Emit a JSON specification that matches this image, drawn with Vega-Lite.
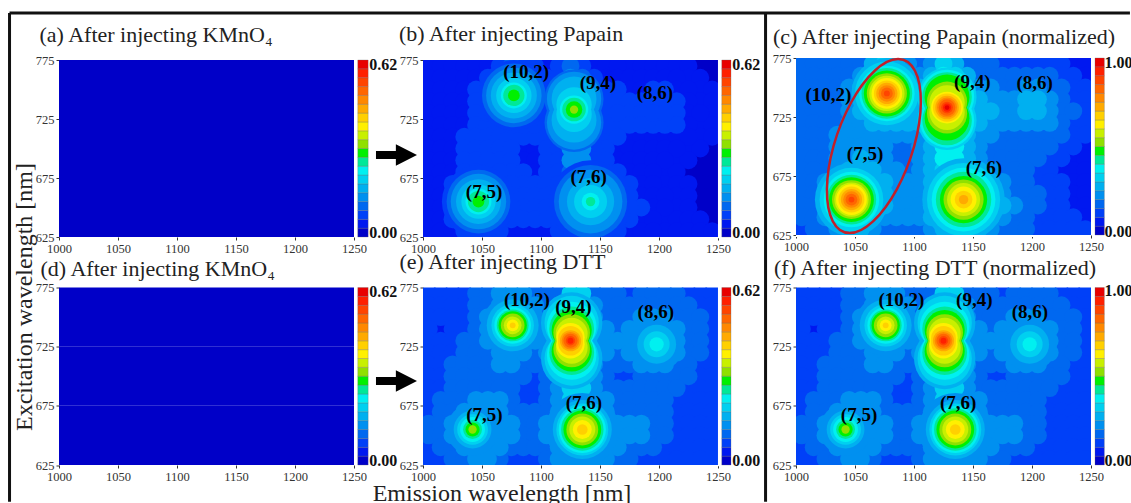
{"$schema":"https://vega.github.io/schema/vega-lite/v6.json","background":"white","padding":{"left":8,"top":11,"right":0,"bottom":0},"config":{"view":{"stroke":null},"axis":{"labelFont":"Liberation Serif","labelFontSize":12.5,"labelColor":"#333333","tickColor":"#333333","tickSize":3,"domain":false,"grid":false,"labelPadding":2,"labelOverlap":false,"labelBound":false,"labelFlush":false},"title":{"font":"Liberation Serif","fontSize":22,"fontWeight":"normal","color":"#222222","anchor":"start","frame":"group"},"text":{"font":"Liberation Serif"}},
"datasets":{
"bar":[{"level":0,"lo":625,"hi":632.5},{"level":1,"lo":632.5,"hi":640},{"level":2,"lo":640,"hi":647.5},{"level":3,"lo":647.5,"hi":655},{"level":4,"lo":655,"hi":662.5},{"level":5,"lo":662.5,"hi":670},{"level":6,"lo":670,"hi":677.5},{"level":7,"lo":677.5,"hi":685},{"level":8,"lo":685,"hi":692.5},{"level":9,"lo":692.5,"hi":700},{"level":10,"lo":700,"hi":707.5},{"level":11,"lo":707.5,"hi":715},{"level":12,"lo":715,"hi":722.5},{"level":13,"lo":722.5,"hi":730},{"level":14,"lo":730,"hi":737.5},{"level":15,"lo":737.5,"hi":745},{"level":16,"lo":745,"hi":752.5},{"level":17,"lo":752.5,"hi":760},{"level":18,"lo":760,"hi":767.5},{"level":19,"lo":767.5,"hi":775}],
"kmno4":[{"x":1000,"x2":1050,"y":625,"y2":675,"v":0.01},{"x":1050,"x2":1100,"y":625,"y2":675,"v":0.01},{"x":1100,"x2":1150,"y":625,"y2":675,"v":0.01},{"x":1150,"x2":1200,"y":625,"y2":675,"v":0.01},{"x":1200,"x2":1250,"y":625,"y2":675,"v":0.01},{"x":1000,"x2":1050,"y":675,"y2":725,"v":0.01},{"x":1050,"x2":1100,"y":675,"y2":725,"v":0.01},{"x":1100,"x2":1150,"y":675,"y2":725,"v":0.01},{"x":1150,"x2":1200,"y":675,"y2":725,"v":0.01},{"x":1200,"x2":1250,"y":675,"y2":725,"v":0.01},{"x":1000,"x2":1050,"y":725,"y2":775,"v":0.01},{"x":1050,"x2":1100,"y":725,"y2":775,"v":0.01},{"x":1100,"x2":1150,"y":725,"y2":775,"v":0.01},{"x":1150,"x2":1200,"y":725,"y2":775,"v":0.01},{"x":1200,"x2":1250,"y":725,"y2":775,"v":0.01}],
"papainRings":[
{"x":1077,"y":745,"v":0.09,"a":3600},{"x":1077,"y":745,"v":0.11,"a":2916},{"x":1077,"y":745,"v":0.13,"a":2209},{"x":1077,"y":745,"v":0.14,"a":1849},{"x":1077,"y":745,"v":0.16,"a":1521},{"x":1077,"y":745,"v":0.18,"a":1156},{"x":1077,"y":745,"v":0.2,"a":900},{"x":1077,"y":745,"v":0.21,"a":676},{"x":1077,"y":745,"v":0.23,"a":484},{"x":1077,"y":745,"v":0.25,"a":324},{"x":1077,"y":745,"v":0.26,"a":196},{"x":1077,"y":745,"v":0.28,"a":100},{"x":1077,"y":745,"v":0.3,"a":25},
{"x":1128,"y":742,"v":0.11,"a":2500},{"x":1128,"y":722,"v":0.11,"a":2500},{"x":1128,"y":742,"v":0.13,"a":2116},{"x":1128,"y":722,"v":0.13,"a":2116},{"x":1128,"y":742,"v":0.14,"a":1764},{"x":1128,"y":722,"v":0.14,"a":1764},{"x":1128,"y":742,"v":0.16,"a":1444},{"x":1128,"y":724,"v":0.16,"a":1444},{"x":1128,"y":738,"v":0.18,"a":1156},{"x":1128,"y":728,"v":0.18,"a":1156},{"x":1128,"y":737,"v":0.2,"a":900},{"x":1128,"y":729,"v":0.2,"a":900},{"x":1128,"y":733,"v":0.21,"a":729},{"x":1128,"y":733,"v":0.23,"a":576},{"x":1128,"y":733,"v":0.25,"a":400},{"x":1128,"y":733,"v":0.26,"a":289},{"x":1128,"y":733,"v":0.28,"a":196},{"x":1128,"y":733,"v":0.3,"a":100},{"x":1128,"y":733,"v":0.31,"a":49},{"x":1128,"y":733,"v":0.33,"a":16},
{"x":1047,"y":655,"v":0.09,"a":3844},{"x":1047,"y":655,"v":0.11,"a":2916},{"x":1047,"y":655,"v":0.13,"a":2209},{"x":1047,"y":655,"v":0.14,"a":1764},{"x":1047,"y":655,"v":0.16,"a":1444},{"x":1047,"y":655,"v":0.18,"a":1089},{"x":1047,"y":655,"v":0.2,"a":841},{"x":1047,"y":655,"v":0.21,"a":676},{"x":1047,"y":655,"v":0.23,"a":484},{"x":1047,"y":655,"v":0.25,"a":324},{"x":1047,"y":655,"v":0.26,"a":196},{"x":1047,"y":655,"v":0.28,"a":100},{"x":1047,"y":655,"v":0.3,"a":25},
{"x":1142,"y":655,"v":0.09,"a":4900},{"x":1142,"y":655,"v":0.11,"a":3844},{"x":1142,"y":655,"v":0.13,"a":2916},{"x":1142,"y":655,"v":0.14,"a":2209},{"x":1142,"y":655,"v":0.16,"a":1600},{"x":1142,"y":655,"v":0.18,"a":1156},{"x":1142,"y":655,"v":0.2,"a":784},{"x":1142,"y":655,"v":0.21,"a":484},{"x":1142,"y":655,"v":0.23,"a":225},{"x":1142,"y":655,"v":0.25,"a":64}],
"dttRings":[
{"x":1076,"y":743,"v":0.14,"a":2704},{"x":1076,"y":743,"v":0.17,"a":1936},{"x":1076,"y":743,"v":0.2,"a":1296},{"x":1076,"y":743,"v":0.23,"a":961},{"x":1076,"y":743,"v":0.26,"a":729},{"x":1076,"y":743,"v":0.29,"a":576},{"x":1076,"y":743,"v":0.33,"a":400},{"x":1076,"y":743,"v":0.36,"a":225},{"x":1076,"y":743,"v":0.39,"a":100},{"x":1076,"y":743,"v":0.42,"a":25},
{"x":1126,"y":745,"v":0.17,"a":2704},{"x":1126,"y":715,"v":0.17,"a":2704},{"x":1126,"y":745,"v":0.2,"a":2116},{"x":1126,"y":715,"v":0.2,"a":2116},{"x":1126,"y":742,"v":0.23,"a":1764},{"x":1126,"y":718,"v":0.23,"a":1764},{"x":1126,"y":740,"v":0.26,"a":1444},{"x":1126,"y":720,"v":0.26,"a":1444},{"x":1126,"y":739,"v":0.29,"a":1156},{"x":1126,"y":721,"v":0.29,"a":1156},{"x":1126,"y":737,"v":0.33,"a":961},{"x":1126,"y":723,"v":0.33,"a":961},{"x":1126,"y":736,"v":0.36,"a":729},{"x":1126,"y":724,"v":0.36,"a":729},{"x":1125,"y":733,"v":0.39,"a":576},{"x":1125,"y":727,"v":0.39,"a":576},{"x":1125,"y":732,"v":0.42,"a":441},{"x":1125,"y":728,"v":0.42,"a":441},{"x":1125,"y":730,"v":0.45,"a":324},{"x":1125,"y":730,"v":0.48,"a":225},{"x":1125,"y":730,"v":0.51,"a":144},{"x":1125,"y":730,"v":0.54,"a":64},{"x":1125,"y":730,"v":0.57,"a":25},
{"x":1042,"y":655,"v":0.14,"a":1936},{"x":1042,"y":655,"v":0.17,"a":1024},{"x":1042,"y":655,"v":0.2,"a":676},{"x":1042,"y":655,"v":0.23,"a":441},{"x":1042,"y":655,"v":0.26,"a":256},{"x":1042,"y":655,"v":0.29,"a":144},{"x":1042,"y":655,"v":0.33,"a":49},
{"x":1135,"y":655,"v":0.14,"a":3844},{"x":1135,"y":655,"v":0.17,"a":2500},{"x":1135,"y":655,"v":0.2,"a":1936},{"x":1135,"y":655,"v":0.23,"a":1600},{"x":1135,"y":655,"v":0.26,"a":1296},{"x":1135,"y":655,"v":0.29,"a":1024},{"x":1135,"y":655,"v":0.33,"a":729},{"x":1135,"y":655,"v":0.36,"a":484},{"x":1135,"y":655,"v":0.39,"a":256},{"x":1135,"y":655,"v":0.42,"a":81},
{"x":1198,"y":727,"v":0.14,"a":2116},{"x":1198,"y":727,"v":0.17,"a":1089},{"x":1198,"y":727,"v":0.2,"a":484},{"x":1198,"y":727,"v":0.23,"a":144}],
"papain":[
{"x":1005,"y":770,"v":0.06},{"x":1015,"y":770,"v":0.06},{"x":1025,"y":770,"v":0.06},{"x":1035,"y":770,"v":0.06},{"x":1045,"y":770,"v":0.06},{"x":1055,"y":770,"v":0.06},{"x":1065,"y":770,"v":0.09},{"x":1075,"y":770,"v":0.11},{"x":1085,"y":770,"v":0.09},{"x":1095,"y":770,"v":0.08},{"x":1105,"y":770,"v":0.06},{"x":1115,"y":770,"v":0.08},{"x":1125,"y":770,"v":0.11},{"x":1135,"y":770,"v":0.09},{"x":1145,"y":770,"v":0.06},{"x":1155,"y":770,"v":0.06},{"x":1165,"y":770,"v":0.06},{"x":1175,"y":770,"v":0.04},{"x":1185,"y":770,"v":0.04},{"x":1195,"y":770,"v":0.04},{"x":1205,"y":770,"v":0.04},{"x":1215,"y":770,"v":0.04},{"x":1225,"y":770,"v":0.04},{"x":1235,"y":770,"v":0.03},{"x":1245,"y":770,"v":0.03},
{"x":1005,"y":760,"v":0.06},{"x":1015,"y":760,"v":0.06},{"x":1025,"y":760,"v":0.06},{"x":1035,"y":760,"v":0.06},{"x":1045,"y":760,"v":0.06},{"x":1055,"y":760,"v":0.08},{"x":1065,"y":760,"v":0.09},{"x":1075,"y":760,"v":0.09},{"x":1085,"y":760,"v":0.09},{"x":1095,"y":760,"v":0.09},{"x":1105,"y":760,"v":0.08},{"x":1115,"y":760,"v":0.09},{"x":1125,"y":760,"v":0.13},{"x":1135,"y":760,"v":0.11},{"x":1145,"y":760,"v":0.09},{"x":1155,"y":760,"v":0.06},{"x":1165,"y":760,"v":0.06},{"x":1175,"y":760,"v":0.06},{"x":1185,"y":760,"v":0.06},{"x":1195,"y":760,"v":0.06},{"x":1205,"y":760,"v":0.06},{"x":1215,"y":760,"v":0.06},{"x":1225,"y":760,"v":0.04},{"x":1235,"y":760,"v":0.04},{"x":1245,"y":760,"v":0.03},
{"x":1005,"y":750,"v":0.06},{"x":1015,"y":750,"v":0.06},{"x":1025,"y":750,"v":0.06},{"x":1035,"y":750,"v":0.06},{"x":1045,"y":750,"v":0.08},{"x":1055,"y":750,"v":0.09},{"x":1065,"y":750,"v":0.09},{"x":1075,"y":750,"v":0.09},{"x":1085,"y":750,"v":0.09},{"x":1095,"y":750,"v":0.09},{"x":1105,"y":750,"v":0.09},{"x":1115,"y":750,"v":0.09},{"x":1125,"y":750,"v":0.09},{"x":1135,"y":750,"v":0.09},{"x":1145,"y":750,"v":0.09},{"x":1155,"y":750,"v":0.08},{"x":1165,"y":750,"v":0.08},{"x":1175,"y":750,"v":0.06},{"x":1185,"y":750,"v":0.06},{"x":1195,"y":750,"v":0.08},{"x":1205,"y":750,"v":0.08},{"x":1215,"y":750,"v":0.06},{"x":1225,"y":750,"v":0.06},{"x":1235,"y":750,"v":0.04},{"x":1245,"y":750,"v":0.04},
{"x":1005,"y":740,"v":0.06},{"x":1015,"y":740,"v":0.06},{"x":1025,"y":740,"v":0.06},{"x":1035,"y":740,"v":0.06},{"x":1045,"y":740,"v":0.08},{"x":1055,"y":740,"v":0.09},{"x":1065,"y":740,"v":0.09},{"x":1075,"y":740,"v":0.09},{"x":1085,"y":740,"v":0.09},{"x":1095,"y":740,"v":0.09},{"x":1105,"y":740,"v":0.09},{"x":1115,"y":740,"v":0.09},{"x":1125,"y":740,"v":0.09},{"x":1135,"y":740,"v":0.09},{"x":1145,"y":740,"v":0.09},{"x":1155,"y":740,"v":0.09},{"x":1165,"y":740,"v":0.08},{"x":1175,"y":740,"v":0.08},{"x":1185,"y":740,"v":0.08},{"x":1195,"y":740,"v":0.09},{"x":1205,"y":740,"v":0.09},{"x":1215,"y":740,"v":0.08},{"x":1225,"y":740,"v":0.06},{"x":1235,"y":740,"v":0.04},{"x":1245,"y":740,"v":0.04},
{"x":1005,"y":730,"v":0.06},{"x":1015,"y":730,"v":0.06},{"x":1025,"y":730,"v":0.06},{"x":1035,"y":730,"v":0.06},{"x":1045,"y":730,"v":0.08},{"x":1055,"y":730,"v":0.09},{"x":1065,"y":730,"v":0.09},{"x":1075,"y":730,"v":0.09},{"x":1085,"y":730,"v":0.09},{"x":1095,"y":730,"v":0.09},{"x":1105,"y":730,"v":0.09},{"x":1115,"y":730,"v":0.09},{"x":1125,"y":730,"v":0.09},{"x":1135,"y":730,"v":0.09},{"x":1145,"y":730,"v":0.09},{"x":1155,"y":730,"v":0.09},{"x":1165,"y":730,"v":0.09},{"x":1175,"y":730,"v":0.08},{"x":1185,"y":730,"v":0.08},{"x":1195,"y":730,"v":0.09},{"x":1205,"y":730,"v":0.09},{"x":1215,"y":730,"v":0.08},{"x":1225,"y":730,"v":0.06},{"x":1235,"y":730,"v":0.06},{"x":1245,"y":730,"v":0.04},
{"x":1005,"y":720,"v":0.06},{"x":1015,"y":720,"v":0.06},{"x":1025,"y":720,"v":0.06},{"x":1035,"y":720,"v":0.06},{"x":1045,"y":720,"v":0.08},{"x":1055,"y":720,"v":0.08},{"x":1065,"y":720,"v":0.09},{"x":1075,"y":720,"v":0.09},{"x":1085,"y":720,"v":0.09},{"x":1095,"y":720,"v":0.09},{"x":1105,"y":720,"v":0.09},{"x":1115,"y":720,"v":0.09},{"x":1125,"y":720,"v":0.09},{"x":1135,"y":720,"v":0.09},{"x":1145,"y":720,"v":0.09},{"x":1155,"y":720,"v":0.09},{"x":1165,"y":720,"v":0.08},{"x":1175,"y":720,"v":0.08},{"x":1185,"y":720,"v":0.08},{"x":1195,"y":720,"v":0.08},{"x":1205,"y":720,"v":0.08},{"x":1215,"y":720,"v":0.08},{"x":1225,"y":720,"v":0.06},{"x":1235,"y":720,"v":0.04},{"x":1245,"y":720,"v":0.04},
{"x":1005,"y":710,"v":0.06},{"x":1015,"y":710,"v":0.06},{"x":1025,"y":710,"v":0.06},{"x":1035,"y":710,"v":0.08},{"x":1045,"y":710,"v":0.08},{"x":1055,"y":710,"v":0.08},{"x":1065,"y":710,"v":0.08},{"x":1075,"y":710,"v":0.08},{"x":1085,"y":710,"v":0.08},{"x":1095,"y":710,"v":0.08},{"x":1105,"y":710,"v":0.08},{"x":1115,"y":710,"v":0.09},{"x":1125,"y":710,"v":0.13},{"x":1135,"y":710,"v":0.13},{"x":1145,"y":710,"v":0.09},{"x":1155,"y":710,"v":0.08},{"x":1165,"y":710,"v":0.08},{"x":1175,"y":710,"v":0.06},{"x":1185,"y":710,"v":0.06},{"x":1195,"y":710,"v":0.06},{"x":1205,"y":710,"v":0.06},{"x":1215,"y":710,"v":0.06},{"x":1225,"y":710,"v":0.06},{"x":1235,"y":710,"v":0.04},{"x":1245,"y":710,"v":0.04},
{"x":1005,"y":700,"v":0.06},{"x":1015,"y":700,"v":0.06},{"x":1025,"y":700,"v":0.06},{"x":1035,"y":700,"v":0.08},{"x":1045,"y":700,"v":0.08},{"x":1055,"y":700,"v":0.08},{"x":1065,"y":700,"v":0.08},{"x":1075,"y":700,"v":0.08},{"x":1085,"y":700,"v":0.06},{"x":1095,"y":700,"v":0.06},{"x":1105,"y":700,"v":0.08},{"x":1115,"y":700,"v":0.09},{"x":1125,"y":700,"v":0.13},{"x":1135,"y":700,"v":0.13},{"x":1145,"y":700,"v":0.09},{"x":1155,"y":700,"v":0.08},{"x":1165,"y":700,"v":0.06},{"x":1175,"y":700,"v":0.06},{"x":1185,"y":700,"v":0.06},{"x":1195,"y":700,"v":0.06},{"x":1205,"y":700,"v":0.06},{"x":1215,"y":700,"v":0.06},{"x":1225,"y":700,"v":0.04},{"x":1235,"y":700,"v":0.04},{"x":1245,"y":700,"v":0.03},
{"x":1005,"y":690,"v":0.06},{"x":1015,"y":690,"v":0.06},{"x":1025,"y":690,"v":0.06},{"x":1035,"y":690,"v":0.08},{"x":1045,"y":690,"v":0.08},{"x":1055,"y":690,"v":0.09},{"x":1065,"y":690,"v":0.08},{"x":1075,"y":690,"v":0.08},{"x":1085,"y":690,"v":0.06},{"x":1095,"y":690,"v":0.06},{"x":1105,"y":690,"v":0.08},{"x":1115,"y":690,"v":0.09},{"x":1125,"y":690,"v":0.13},{"x":1135,"y":690,"v":0.13},{"x":1145,"y":690,"v":0.09},{"x":1155,"y":690,"v":0.08},{"x":1165,"y":690,"v":0.06},{"x":1175,"y":690,"v":0.06},{"x":1185,"y":690,"v":0.06},{"x":1195,"y":690,"v":0.06},{"x":1205,"y":690,"v":0.06},{"x":1215,"y":690,"v":0.04},{"x":1225,"y":690,"v":0.04},{"x":1235,"y":690,"v":0.03},{"x":1245,"y":690,"v":0.03},
{"x":1005,"y":680,"v":0.06},{"x":1015,"y":680,"v":0.06},{"x":1025,"y":680,"v":0.06},{"x":1035,"y":680,"v":0.08},{"x":1045,"y":680,"v":0.09},{"x":1055,"y":680,"v":0.09},{"x":1065,"y":680,"v":0.09},{"x":1075,"y":680,"v":0.08},{"x":1085,"y":680,"v":0.08},{"x":1095,"y":680,"v":0.06},{"x":1105,"y":680,"v":0.08},{"x":1115,"y":680,"v":0.09},{"x":1125,"y":680,"v":0.11},{"x":1135,"y":680,"v":0.11},{"x":1145,"y":680,"v":0.09},{"x":1155,"y":680,"v":0.09},{"x":1165,"y":680,"v":0.08},{"x":1175,"y":680,"v":0.06},{"x":1185,"y":680,"v":0.06},{"x":1195,"y":680,"v":0.06},{"x":1205,"y":680,"v":0.04},{"x":1215,"y":680,"v":0.04},{"x":1225,"y":680,"v":0.03},{"x":1235,"y":680,"v":0.03},{"x":1245,"y":680,"v":0.03},
{"x":1005,"y":670,"v":0.06},{"x":1015,"y":670,"v":0.06},{"x":1025,"y":670,"v":0.08},{"x":1035,"y":670,"v":0.09},{"x":1045,"y":670,"v":0.09},{"x":1055,"y":670,"v":0.09},{"x":1065,"y":670,"v":0.09},{"x":1075,"y":670,"v":0.09},{"x":1085,"y":670,"v":0.08},{"x":1095,"y":670,"v":0.08},{"x":1105,"y":670,"v":0.08},{"x":1115,"y":670,"v":0.09},{"x":1125,"y":670,"v":0.09},{"x":1135,"y":670,"v":0.09},{"x":1145,"y":670,"v":0.09},{"x":1155,"y":670,"v":0.09},{"x":1165,"y":670,"v":0.09},{"x":1175,"y":670,"v":0.08},{"x":1185,"y":670,"v":0.06},{"x":1195,"y":670,"v":0.06},{"x":1205,"y":670,"v":0.04},{"x":1215,"y":670,"v":0.04},{"x":1225,"y":670,"v":0.04},{"x":1235,"y":670,"v":0.03},{"x":1245,"y":670,"v":0.03},
{"x":1005,"y":660,"v":0.06},{"x":1015,"y":660,"v":0.06},{"x":1025,"y":660,"v":0.09},{"x":1035,"y":660,"v":0.09},{"x":1045,"y":660,"v":0.09},{"x":1055,"y":660,"v":0.09},{"x":1065,"y":660,"v":0.09},{"x":1075,"y":660,"v":0.09},{"x":1085,"y":660,"v":0.08},{"x":1095,"y":660,"v":0.08},{"x":1105,"y":660,"v":0.08},{"x":1115,"y":660,"v":0.09},{"x":1125,"y":660,"v":0.09},{"x":1135,"y":660,"v":0.09},{"x":1145,"y":660,"v":0.09},{"x":1155,"y":660,"v":0.09},{"x":1165,"y":660,"v":0.09},{"x":1175,"y":660,"v":0.08},{"x":1185,"y":660,"v":0.06},{"x":1195,"y":660,"v":0.06},{"x":1205,"y":660,"v":0.06},{"x":1215,"y":660,"v":0.04},{"x":1225,"y":660,"v":0.04},{"x":1235,"y":660,"v":0.03},{"x":1245,"y":660,"v":0.03},
{"x":1005,"y":650,"v":0.06},{"x":1015,"y":650,"v":0.06},{"x":1025,"y":650,"v":0.09},{"x":1035,"y":650,"v":0.09},{"x":1045,"y":650,"v":0.09},{"x":1055,"y":650,"v":0.09},{"x":1065,"y":650,"v":0.09},{"x":1075,"y":650,"v":0.09},{"x":1085,"y":650,"v":0.08},{"x":1095,"y":650,"v":0.08},{"x":1105,"y":650,"v":0.08},{"x":1115,"y":650,"v":0.09},{"x":1125,"y":650,"v":0.09},{"x":1135,"y":650,"v":0.09},{"x":1145,"y":650,"v":0.09},{"x":1155,"y":650,"v":0.09},{"x":1165,"y":650,"v":0.09},{"x":1175,"y":650,"v":0.09},{"x":1185,"y":650,"v":0.08},{"x":1195,"y":650,"v":0.06},{"x":1205,"y":650,"v":0.06},{"x":1215,"y":650,"v":0.04},{"x":1225,"y":650,"v":0.04},{"x":1235,"y":650,"v":0.03},{"x":1245,"y":650,"v":0.03},
{"x":1005,"y":640,"v":0.06},{"x":1015,"y":640,"v":0.06},{"x":1025,"y":640,"v":0.08},{"x":1035,"y":640,"v":0.09},{"x":1045,"y":640,"v":0.09},{"x":1055,"y":640,"v":0.09},{"x":1065,"y":640,"v":0.09},{"x":1075,"y":640,"v":0.08},{"x":1085,"y":640,"v":0.08},{"x":1095,"y":640,"v":0.08},{"x":1105,"y":640,"v":0.08},{"x":1115,"y":640,"v":0.09},{"x":1125,"y":640,"v":0.09},{"x":1135,"y":640,"v":0.09},{"x":1145,"y":640,"v":0.09},{"x":1155,"y":640,"v":0.09},{"x":1165,"y":640,"v":0.09},{"x":1175,"y":640,"v":0.08},{"x":1185,"y":640,"v":0.06},{"x":1195,"y":640,"v":0.06},{"x":1205,"y":640,"v":0.04},{"x":1215,"y":640,"v":0.04},{"x":1225,"y":640,"v":0.04},{"x":1235,"y":640,"v":0.04},{"x":1245,"y":640,"v":0.03},
{"x":1005,"y":630,"v":0.04},{"x":1015,"y":630,"v":0.06},{"x":1025,"y":630,"v":0.06},{"x":1035,"y":630,"v":0.08},{"x":1045,"y":630,"v":0.09},{"x":1055,"y":630,"v":0.09},{"x":1065,"y":630,"v":0.08},{"x":1075,"y":630,"v":0.06},{"x":1085,"y":630,"v":0.06},{"x":1095,"y":630,"v":0.06},{"x":1105,"y":630,"v":0.06},{"x":1115,"y":630,"v":0.08},{"x":1125,"y":630,"v":0.09},{"x":1135,"y":630,"v":0.09},{"x":1145,"y":630,"v":0.09},{"x":1155,"y":630,"v":0.09},{"x":1165,"y":630,"v":0.08},{"x":1175,"y":630,"v":0.06},{"x":1185,"y":630,"v":0.06},{"x":1195,"y":630,"v":0.06},{"x":1205,"y":630,"v":0.04},{"x":1215,"y":630,"v":0.04},{"x":1225,"y":630,"v":0.04},{"x":1235,"y":630,"v":0.04},{"x":1245,"y":630,"v":0.04}],
"dtt":[
{"x":1005,"y":770,"v":0.08},{"x":1015,"y":770,"v":0.08},{"x":1025,"y":770,"v":0.08},{"x":1035,"y":770,"v":0.08},{"x":1045,"y":770,"v":0.11},{"x":1055,"y":770,"v":0.11},{"x":1065,"y":770,"v":0.14},{"x":1075,"y":770,"v":0.14},{"x":1085,"y":770,"v":0.14},{"x":1095,"y":770,"v":0.11},{"x":1105,"y":770,"v":0.11},{"x":1115,"y":770,"v":0.11},{"x":1125,"y":770,"v":0.2},{"x":1135,"y":770,"v":0.2},{"x":1145,"y":770,"v":0.11},{"x":1155,"y":770,"v":0.11},{"x":1165,"y":770,"v":0.11},{"x":1175,"y":770,"v":0.08},{"x":1185,"y":770,"v":0.11},{"x":1195,"y":770,"v":0.11},{"x":1205,"y":770,"v":0.11},{"x":1215,"y":770,"v":0.11},{"x":1225,"y":770,"v":0.08},{"x":1235,"y":770,"v":0.08},{"x":1245,"y":770,"v":0.08},
{"x":1005,"y":760,"v":0.08},{"x":1015,"y":760,"v":0.08},{"x":1025,"y":760,"v":0.08},{"x":1035,"y":760,"v":0.08},{"x":1045,"y":760,"v":0.11},{"x":1055,"y":760,"v":0.11},{"x":1065,"y":760,"v":0.14},{"x":1075,"y":760,"v":0.14},{"x":1085,"y":760,"v":0.14},{"x":1095,"y":760,"v":0.14},{"x":1105,"y":760,"v":0.11},{"x":1115,"y":760,"v":0.14},{"x":1125,"y":760,"v":0.2},{"x":1135,"y":760,"v":0.2},{"x":1145,"y":760,"v":0.14},{"x":1155,"y":760,"v":0.11},{"x":1165,"y":760,"v":0.11},{"x":1175,"y":760,"v":0.11},{"x":1185,"y":760,"v":0.11},{"x":1195,"y":760,"v":0.11},{"x":1205,"y":760,"v":0.11},{"x":1215,"y":760,"v":0.11},{"x":1225,"y":760,"v":0.11},{"x":1235,"y":760,"v":0.08},{"x":1245,"y":760,"v":0.08},
{"x":1005,"y":750,"v":0.08},{"x":1015,"y":750,"v":0.08},{"x":1025,"y":750,"v":0.08},{"x":1035,"y":750,"v":0.08},{"x":1045,"y":750,"v":0.11},{"x":1055,"y":750,"v":0.14},{"x":1065,"y":750,"v":0.14},{"x":1075,"y":750,"v":0.14},{"x":1085,"y":750,"v":0.14},{"x":1095,"y":750,"v":0.14},{"x":1105,"y":750,"v":0.11},{"x":1115,"y":750,"v":0.14},{"x":1125,"y":750,"v":0.14},{"x":1135,"y":750,"v":0.14},{"x":1145,"y":750,"v":0.14},{"x":1155,"y":750,"v":0.11},{"x":1165,"y":750,"v":0.11},{"x":1175,"y":750,"v":0.11},{"x":1185,"y":750,"v":0.14},{"x":1195,"y":750,"v":0.14},{"x":1205,"y":750,"v":0.14},{"x":1215,"y":750,"v":0.11},{"x":1225,"y":750,"v":0.11},{"x":1235,"y":750,"v":0.11},{"x":1245,"y":750,"v":0.08},
{"x":1005,"y":740,"v":0.08},{"x":1015,"y":740,"v":0.05},{"x":1025,"y":740,"v":0.08},{"x":1035,"y":740,"v":0.08},{"x":1045,"y":740,"v":0.11},{"x":1055,"y":740,"v":0.14},{"x":1065,"y":740,"v":0.14},{"x":1075,"y":740,"v":0.14},{"x":1085,"y":740,"v":0.14},{"x":1095,"y":740,"v":0.14},{"x":1105,"y":740,"v":0.14},{"x":1115,"y":740,"v":0.14},{"x":1125,"y":740,"v":0.14},{"x":1135,"y":740,"v":0.14},{"x":1145,"y":740,"v":0.14},{"x":1155,"y":740,"v":0.14},{"x":1165,"y":740,"v":0.11},{"x":1175,"y":740,"v":0.14},{"x":1185,"y":740,"v":0.14},{"x":1195,"y":740,"v":0.14},{"x":1205,"y":740,"v":0.14},{"x":1215,"y":740,"v":0.14},{"x":1225,"y":740,"v":0.11},{"x":1235,"y":740,"v":0.11},{"x":1245,"y":740,"v":0.08},
{"x":1005,"y":730,"v":0.08},{"x":1015,"y":730,"v":0.08},{"x":1025,"y":730,"v":0.08},{"x":1035,"y":730,"v":0.11},{"x":1045,"y":730,"v":0.11},{"x":1055,"y":730,"v":0.14},{"x":1065,"y":730,"v":0.14},{"x":1075,"y":730,"v":0.14},{"x":1085,"y":730,"v":0.14},{"x":1095,"y":730,"v":0.14},{"x":1105,"y":730,"v":0.14},{"x":1115,"y":730,"v":0.14},{"x":1125,"y":730,"v":0.14},{"x":1135,"y":730,"v":0.14},{"x":1145,"y":730,"v":0.14},{"x":1155,"y":730,"v":0.14},{"x":1165,"y":730,"v":0.14},{"x":1175,"y":730,"v":0.14},{"x":1185,"y":730,"v":0.14},{"x":1195,"y":730,"v":0.14},{"x":1205,"y":730,"v":0.14},{"x":1215,"y":730,"v":0.14},{"x":1225,"y":730,"v":0.11},{"x":1235,"y":730,"v":0.11},{"x":1245,"y":730,"v":0.08},
{"x":1005,"y":720,"v":0.08},{"x":1015,"y":720,"v":0.08},{"x":1025,"y":720,"v":0.08},{"x":1035,"y":720,"v":0.11},{"x":1045,"y":720,"v":0.11},{"x":1055,"y":720,"v":0.11},{"x":1065,"y":720,"v":0.14},{"x":1075,"y":720,"v":0.14},{"x":1085,"y":720,"v":0.14},{"x":1095,"y":720,"v":0.11},{"x":1105,"y":720,"v":0.14},{"x":1115,"y":720,"v":0.14},{"x":1125,"y":720,"v":0.14},{"x":1135,"y":720,"v":0.14},{"x":1145,"y":720,"v":0.14},{"x":1155,"y":720,"v":0.14},{"x":1165,"y":720,"v":0.11},{"x":1175,"y":720,"v":0.14},{"x":1185,"y":720,"v":0.14},{"x":1195,"y":720,"v":0.14},{"x":1205,"y":720,"v":0.14},{"x":1215,"y":720,"v":0.14},{"x":1225,"y":720,"v":0.11},{"x":1235,"y":720,"v":0.11},{"x":1245,"y":720,"v":0.08},
{"x":1005,"y":710,"v":0.08},{"x":1015,"y":710,"v":0.08},{"x":1025,"y":710,"v":0.11},{"x":1035,"y":710,"v":0.11},{"x":1045,"y":710,"v":0.11},{"x":1055,"y":710,"v":0.11},{"x":1065,"y":710,"v":0.14},{"x":1075,"y":710,"v":0.14},{"x":1085,"y":710,"v":0.11},{"x":1095,"y":710,"v":0.11},{"x":1105,"y":710,"v":0.11},{"x":1115,"y":710,"v":0.14},{"x":1125,"y":710,"v":0.2},{"x":1135,"y":710,"v":0.2},{"x":1145,"y":710,"v":0.14},{"x":1155,"y":710,"v":0.11},{"x":1165,"y":710,"v":0.11},{"x":1175,"y":710,"v":0.11},{"x":1185,"y":710,"v":0.14},{"x":1195,"y":710,"v":0.14},{"x":1205,"y":710,"v":0.14},{"x":1215,"y":710,"v":0.11},{"x":1225,"y":710,"v":0.11},{"x":1235,"y":710,"v":0.08},{"x":1245,"y":710,"v":0.08},
{"x":1005,"y":700,"v":0.08},{"x":1015,"y":700,"v":0.08},{"x":1025,"y":700,"v":0.11},{"x":1035,"y":700,"v":0.11},{"x":1045,"y":700,"v":0.11},{"x":1055,"y":700,"v":0.11},{"x":1065,"y":700,"v":0.11},{"x":1075,"y":700,"v":0.11},{"x":1085,"y":700,"v":0.11},{"x":1095,"y":700,"v":0.08},{"x":1105,"y":700,"v":0.11},{"x":1115,"y":700,"v":0.14},{"x":1125,"y":700,"v":0.2},{"x":1135,"y":700,"v":0.2},{"x":1145,"y":700,"v":0.14},{"x":1155,"y":700,"v":0.11},{"x":1165,"y":700,"v":0.08},{"x":1175,"y":700,"v":0.08},{"x":1185,"y":700,"v":0.11},{"x":1195,"y":700,"v":0.11},{"x":1205,"y":700,"v":0.11},{"x":1215,"y":700,"v":0.11},{"x":1225,"y":700,"v":0.11},{"x":1235,"y":700,"v":0.08},{"x":1245,"y":700,"v":0.08},
{"x":1005,"y":690,"v":0.08},{"x":1015,"y":690,"v":0.08},{"x":1025,"y":690,"v":0.11},{"x":1035,"y":690,"v":0.11},{"x":1045,"y":690,"v":0.11},{"x":1055,"y":690,"v":0.11},{"x":1065,"y":690,"v":0.11},{"x":1075,"y":690,"v":0.11},{"x":1085,"y":690,"v":0.08},{"x":1095,"y":690,"v":0.08},{"x":1105,"y":690,"v":0.11},{"x":1115,"y":690,"v":0.14},{"x":1125,"y":690,"v":0.2},{"x":1135,"y":690,"v":0.2},{"x":1145,"y":690,"v":0.14},{"x":1155,"y":690,"v":0.11},{"x":1165,"y":690,"v":0.11},{"x":1175,"y":690,"v":0.11},{"x":1185,"y":690,"v":0.11},{"x":1195,"y":690,"v":0.11},{"x":1205,"y":690,"v":0.11},{"x":1215,"y":690,"v":0.11},{"x":1225,"y":690,"v":0.08},{"x":1235,"y":690,"v":0.08},{"x":1245,"y":690,"v":0.08},
{"x":1005,"y":680,"v":0.08},{"x":1015,"y":680,"v":0.11},{"x":1025,"y":680,"v":0.11},{"x":1035,"y":680,"v":0.11},{"x":1045,"y":680,"v":0.14},{"x":1055,"y":680,"v":0.14},{"x":1065,"y":680,"v":0.14},{"x":1075,"y":680,"v":0.11},{"x":1085,"y":680,"v":0.08},{"x":1095,"y":680,"v":0.08},{"x":1105,"y":680,"v":0.11},{"x":1115,"y":680,"v":0.14},{"x":1125,"y":680,"v":0.2},{"x":1135,"y":680,"v":0.2},{"x":1145,"y":680,"v":0.14},{"x":1155,"y":680,"v":0.14},{"x":1165,"y":680,"v":0.11},{"x":1175,"y":680,"v":0.11},{"x":1185,"y":680,"v":0.11},{"x":1195,"y":680,"v":0.11},{"x":1205,"y":680,"v":0.11},{"x":1215,"y":680,"v":0.08},{"x":1225,"y":680,"v":0.08},{"x":1235,"y":680,"v":0.08},{"x":1245,"y":680,"v":0.08},
{"x":1005,"y":670,"v":0.08},{"x":1015,"y":670,"v":0.11},{"x":1025,"y":670,"v":0.11},{"x":1035,"y":670,"v":0.14},{"x":1045,"y":670,"v":0.14},{"x":1055,"y":670,"v":0.14},{"x":1065,"y":670,"v":0.14},{"x":1075,"y":670,"v":0.11},{"x":1085,"y":670,"v":0.11},{"x":1095,"y":670,"v":0.11},{"x":1105,"y":670,"v":0.11},{"x":1115,"y":670,"v":0.14},{"x":1125,"y":670,"v":0.14},{"x":1135,"y":670,"v":0.14},{"x":1145,"y":670,"v":0.14},{"x":1155,"y":670,"v":0.14},{"x":1165,"y":670,"v":0.11},{"x":1175,"y":670,"v":0.11},{"x":1185,"y":670,"v":0.11},{"x":1195,"y":670,"v":0.11},{"x":1205,"y":670,"v":0.11},{"x":1215,"y":670,"v":0.08},{"x":1225,"y":670,"v":0.08},{"x":1235,"y":670,"v":0.08},{"x":1245,"y":670,"v":0.08},
{"x":1005,"y":660,"v":0.11},{"x":1015,"y":660,"v":0.11},{"x":1025,"y":660,"v":0.14},{"x":1035,"y":660,"v":0.14},{"x":1045,"y":660,"v":0.14},{"x":1055,"y":660,"v":0.14},{"x":1065,"y":660,"v":0.14},{"x":1075,"y":660,"v":0.14},{"x":1085,"y":660,"v":0.11},{"x":1095,"y":660,"v":0.11},{"x":1105,"y":660,"v":0.14},{"x":1115,"y":660,"v":0.14},{"x":1125,"y":660,"v":0.14},{"x":1135,"y":660,"v":0.14},{"x":1145,"y":660,"v":0.14},{"x":1155,"y":660,"v":0.14},{"x":1165,"y":660,"v":0.14},{"x":1175,"y":660,"v":0.14},{"x":1185,"y":660,"v":0.14},{"x":1195,"y":660,"v":0.11},{"x":1205,"y":660,"v":0.11},{"x":1215,"y":660,"v":0.08},{"x":1225,"y":660,"v":0.08},{"x":1235,"y":660,"v":0.08},{"x":1245,"y":660,"v":0.08},
{"x":1005,"y":650,"v":0.11},{"x":1015,"y":650,"v":0.11},{"x":1025,"y":650,"v":0.14},{"x":1035,"y":650,"v":0.14},{"x":1045,"y":650,"v":0.14},{"x":1055,"y":650,"v":0.14},{"x":1065,"y":650,"v":0.14},{"x":1075,"y":650,"v":0.14},{"x":1085,"y":650,"v":0.11},{"x":1095,"y":650,"v":0.11},{"x":1105,"y":650,"v":0.14},{"x":1115,"y":650,"v":0.14},{"x":1125,"y":650,"v":0.14},{"x":1135,"y":650,"v":0.14},{"x":1145,"y":650,"v":0.14},{"x":1155,"y":650,"v":0.14},{"x":1165,"y":650,"v":0.14},{"x":1175,"y":650,"v":0.14},{"x":1185,"y":650,"v":0.14},{"x":1195,"y":650,"v":0.11},{"x":1205,"y":650,"v":0.11},{"x":1215,"y":650,"v":0.08},{"x":1225,"y":650,"v":0.08},{"x":1235,"y":650,"v":0.08},{"x":1245,"y":650,"v":0.08},
{"x":1005,"y":640,"v":0.08},{"x":1015,"y":640,"v":0.11},{"x":1025,"y":640,"v":0.11},{"x":1035,"y":640,"v":0.14},{"x":1045,"y":640,"v":0.14},{"x":1055,"y":640,"v":0.14},{"x":1065,"y":640,"v":0.14},{"x":1075,"y":640,"v":0.11},{"x":1085,"y":640,"v":0.11},{"x":1095,"y":640,"v":0.11},{"x":1105,"y":640,"v":0.11},{"x":1115,"y":640,"v":0.14},{"x":1125,"y":640,"v":0.14},{"x":1135,"y":640,"v":0.14},{"x":1145,"y":640,"v":0.14},{"x":1155,"y":640,"v":0.14},{"x":1165,"y":640,"v":0.14},{"x":1175,"y":640,"v":0.11},{"x":1185,"y":640,"v":0.11},{"x":1195,"y":640,"v":0.11},{"x":1205,"y":640,"v":0.08},{"x":1215,"y":640,"v":0.08},{"x":1225,"y":640,"v":0.08},{"x":1235,"y":640,"v":0.08},{"x":1245,"y":640,"v":0.08},
{"x":1005,"y":630,"v":0.08},{"x":1015,"y":630,"v":0.08},{"x":1025,"y":630,"v":0.11},{"x":1035,"y":630,"v":0.11},{"x":1045,"y":630,"v":0.14},{"x":1055,"y":630,"v":0.14},{"x":1065,"y":630,"v":0.11},{"x":1075,"y":630,"v":0.08},{"x":1085,"y":630,"v":0.08},{"x":1095,"y":630,"v":0.08},{"x":1105,"y":630,"v":0.11},{"x":1115,"y":630,"v":0.14},{"x":1125,"y":630,"v":0.14},{"x":1135,"y":630,"v":0.14},{"x":1145,"y":630,"v":0.14},{"x":1155,"y":630,"v":0.14},{"x":1165,"y":630,"v":0.11},{"x":1175,"y":630,"v":0.11},{"x":1185,"y":630,"v":0.08},{"x":1195,"y":630,"v":0.08},{"x":1205,"y":630,"v":0.08},{"x":1215,"y":630,"v":0.08},{"x":1225,"y":630,"v":0.08},{"x":1235,"y":630,"v":0.08},{"x":1245,"y":630,"v":0.08}]
},
"columns":3,"spacing":{"row":50.5,"column":69},"bounds":"flush","align":"each",
"concat":[
{"width":295,"height":179,"title":{"text":"(a) After injecting KMnO₄","dx":-19.5,"offset":7},"resolve":{"scale":{"color":"independent"}},"layer":[
{"data":{"name":"kmno4"},"mark":{"type":"rect"},"encoding":{"x":{"field":"x","type":"quantitative","scale":{"domain":[1000,1250],"nice":false,"zero":false},"axis":{"title":null,"format":"d","values":[1000,1050,1100,1150,1200,1250]}},"x2":{"field":"x2"},"y":{"field":"y","type":"quantitative","scale":{"domain":[625,775],"nice":false,"zero":false,"range":[179,2]},"axis":{"title":"Excitation wavelength [nm]","values":[625,675,725,775],"titleFont":"Liberation Serif","titleFontSize":24,"titleFontWeight":"normal","titleColor":"#222222","titleX":-35,"titleY":238.5,"titleAngle":270,"titleAlign":"center","titleBaseline":"middle"}},"y2":{"field":"y2"},"color":{"field":"v","type":"quantitative","legend":null,"scale":{"type":"quantize","domain":[0,0.62],"range":["#0000C8","#0018F0","#0040F8","#0068F0","#0090F0","#00B0F0","#00D0F0","#00F0F0","#00E898","#00F000","#90E000","#C8F000","#FFF000","#FFD000","#FFAA00","#FF8800","#FF6600","#FF4400","#FF2000","#E80000"]}}}},
{"data":{"name":"bar"},"mark":{"type":"rect","stroke":"#666666","strokeWidth":0.3},"encoding":{"x":{"datum":1253.2,"type":"quantitative"},"x2":{"datum":1262},"y":{"field":"lo","type":"quantitative"},"y2":{"field":"hi"},"color":{"field":"level","type":"ordinal","legend":null,"scale":{"domain":[0,1,2,3,4,5,6,7,8,9,10,11,12,13,14,15,16,17,18,19],"range":["#0000C8","#0018F0","#0040F8","#0068F0","#0090F0","#00B0F0","#00D0F0","#00F0F0","#00E898","#00F000","#90E000","#C8F000","#FFF000","#FFD000","#FFAA00","#FF8800","#FF6600","#FF4400","#FF2000","#E80000"]}}}},
{"data":{"values":[{"x":1263,"y":770.5,"t":"0.62"},{"x":1263,"y":628,"t":"0.00"}]},"mark":{"type":"text","align":"left","baseline":"middle","font":"Liberation Serif","fontWeight":"bold","fontSize":16,"color":"#111111"},"encoding":{"x":{"field":"x","type":"quantitative"},"y":{"field":"y","type":"quantitative"},"text":{"field":"t"}}},
{"data":{"values":[{"x":1286,"y":694.5}]},"mark":{"type":"point","filled":true,"opacity":1,"color":"black","size":1681,"shape":"M-1,-0.2 L-0.03,-0.2 L-0.03,-0.52 L1,0 L-0.03,0.52 L-0.03,0.2 L-1,0.2 Z"},"encoding":{"x":{"field":"x","type":"quantitative"},"y":{"field":"y","type":"quantitative"}}}
]},
{"width":303.5,"height":179,"title":{"text":"(b) After injecting Papain","dx":-24,"offset":7},"resolve":{"scale":{"color":"independent"}},"layer":[
{"data":{"name":"papain"},"mark":{"type":"circle","size":320,"opacity":1,"clip":true},"encoding":{"x":{"field":"x","type":"quantitative","scale":{"domain":[1000,1250],"nice":false,"zero":false,"range":[0,295]},"axis":{"title":null,"format":"d","values":[1000,1050,1100,1150,1200,1250]}},"y":{"field":"y","type":"quantitative","scale":{"domain":[625,775],"nice":false,"zero":false,"range":[179,2]},"axis":{"title":null,"values":[625,675,725,775]}},"order":{"field":"v","type":"quantitative"},"color":{"field":"v","type":"quantitative","legend":null,"scale":{"type":"quantize","domain":[0,0.62],"range":["#0000C8","#0018F0","#0040F8","#0068F0","#0090F0","#00B0F0","#00D0F0","#00F0F0","#00E898","#00F000","#90E000","#C8F000","#FFF000","#FFD000","#FFAA00","#FF8800","#FF6600","#FF4400","#FF2000","#E80000"]}}}},
{"data":{"name":"papainRings"},"mark":{"type":"circle","opacity":1,"clip":true},"encoding":{"x":{"field":"x","type":"quantitative"},"y":{"field":"y","type":"quantitative"},"order":{"field":"v","type":"quantitative"},"size":{"field":"a","type":"quantitative","legend":null,"scale":{"domain":[0,1000],"range":[0,1392]}},"color":{"field":"v","type":"quantitative","legend":null,"scale":{"type":"quantize","domain":[0,0.62],"range":["#0000C8","#0018F0","#0040F8","#0068F0","#0090F0","#00B0F0","#00D0F0","#00F0F0","#00E898","#00F000","#90E000","#C8F000","#FFF000","#FFD000","#FFAA00","#FF8800","#FF6600","#FF4400","#FF2000","#E80000"]}}}},
{"data":{"values":[{"x":1000,"x2":1256,"y":775.85}]},"mark":{"type":"rule","color":"white","strokeWidth":2},"encoding":{"x":{"field":"x","type":"quantitative"},"x2":{"field":"x2"},"y":{"field":"y","type":"quantitative"}}},
{"data":{"values":[{"x":1254,"y":624,"y2":777}]},"mark":{"type":"rule","color":"white","strokeWidth":9.5},"encoding":{"x":{"field":"x","type":"quantitative"},"y":{"field":"y","type":"quantitative"},"y2":{"field":"y2"}}},
{"data":{"name":"bar"},"mark":{"type":"rect","stroke":"#666666","strokeWidth":0.3},"encoding":{"x":{"datum":1253.2,"type":"quantitative"},"x2":{"datum":1261},"y":{"field":"lo","type":"quantitative"},"y2":{"field":"hi"},"color":{"field":"level","type":"ordinal","legend":null,"scale":{"domain":[0,1,2,3,4,5,6,7,8,9,10,11,12,13,14,15,16,17,18,19],"range":["#0000C8","#0018F0","#0040F8","#0068F0","#0090F0","#00B0F0","#00D0F0","#00F0F0","#00E898","#00F000","#90E000","#C8F000","#FFF000","#FFD000","#FFAA00","#FF8800","#FF6600","#FF4400","#FF2000","#E80000"]}}}},
{"data":{"values":[{"x":1262,"y":770.5,"t":"0.62"},{"x":1262,"y":628,"t":"0.00"}]},"mark":{"type":"text","align":"left","baseline":"middle","font":"Liberation Serif","fontWeight":"bold","fontSize":16,"color":"#111111"},"encoding":{"x":{"field":"x","type":"quantitative"},"y":{"field":"y","type":"quantitative"},"text":{"field":"t"}}},
{"data":{"values":[{"x":1087.5,"y":765.1,"t":"(10,2)"},{"x":1148.3,"y":755.8,"t":"(9,4)"},{"x":1196.6,"y":747.3,"t":"(8,6)"},{"x":1051.7,"y":662.9,"t":"(7,5)"},{"x":1140.4,"y":675.6,"t":"(7,6)"}]},"mark":{"type":"text","align":"center","baseline":"middle","font":"Liberation Serif","fontWeight":"bold","fontSize":19,"color":"black"},"encoding":{"x":{"field":"x","type":"quantitative"},"y":{"field":"y","type":"quantitative"},"text":{"field":"t"}}}
]},
{"width":295,"height":179,"resolve":{"scale":{"color":"independent"}},"layer":[
{"data":{"name":"papain"},"mark":{"type":"circle","size":320,"opacity":1,"clip":true},"encoding":{"x":{"field":"x","type":"quantitative","scale":{"domain":[1000,1250],"nice":false,"zero":false},"axis":{"title":null,"format":"d","offset":-2,"values":[1000,1050,1100,1150,1200,1250]}},"y":{"field":"y","type":"quantitative","scale":{"domain":[625,775],"nice":false,"zero":false,"range":[177,0]},"axis":{"title":null,"values":[625,675,725,775]}},"order":{"field":"v","type":"quantitative"},"color":{"field":"v","type":"quantitative","legend":null,"scale":{"type":"quantize","domain":[0,0.34],"range":["#0000C8","#0018F0","#0040F8","#0068F0","#0090F0","#00B0F0","#00D0F0","#00F0F0","#00E898","#00F000","#90E000","#C8F000","#FFF000","#FFD000","#FFAA00","#FF8800","#FF6600","#FF4400","#FF2000","#E80000"]}}}},
{"data":{"name":"papainRings"},"mark":{"type":"circle","opacity":1,"clip":true},"encoding":{"x":{"field":"x","type":"quantitative"},"y":{"field":"y","type":"quantitative"},"order":{"field":"v","type":"quantitative"},"size":{"field":"a","type":"quantitative","legend":null,"scale":{"domain":[0,1000],"range":[0,1392]}},"color":{"field":"v","type":"quantitative","legend":null,"scale":{"type":"quantize","domain":[0,0.34],"range":["#0000C8","#0018F0","#0040F8","#0068F0","#0090F0","#00B0F0","#00D0F0","#00F0F0","#00E898","#00F000","#90E000","#C8F000","#FFF000","#FFD000","#FFAA00","#FF8800","#FF6600","#FF4400","#FF2000","#E80000"]}}}},
{"data":{"values":[{"x":1000,"x2":1250,"y":624.15}]},"mark":{"type":"rule","color":"white","strokeWidth":2},"encoding":{"x":{"field":"x","type":"quantitative"},"x2":{"field":"x2"},"y":{"field":"y","type":"quantitative"}}},
{"data":{"name":"bar"},"mark":{"type":"rect","stroke":"#666666","strokeWidth":0.3},"encoding":{"x":{"datum":1253.4,"type":"quantitative"},"x2":{"datum":1261.3},"y":{"field":"lo","type":"quantitative"},"y2":{"field":"hi"},"color":{"field":"level","type":"ordinal","legend":null,"scale":{"domain":[0,1,2,3,4,5,6,7,8,9,10,11,12,13,14,15,16,17,18,19],"range":["#0000C8","#0018F0","#0040F8","#0068F0","#0090F0","#00B0F0","#00D0F0","#00F0F0","#00E898","#00F000","#90E000","#C8F000","#FFF000","#FFD000","#FFAA00","#FF8800","#FF6600","#FF4400","#FF2000","#E80000"]}}}},
{"data":{"values":[{"x":1261.5,"y":770.8,"t":"1.00"},{"x":1261.5,"y":627.8,"t":"0.00"}]},"mark":{"type":"text","align":"left","baseline":"middle","font":"Liberation Serif","fontWeight":"bold","fontSize":16,"color":"#111111"},"encoding":{"x":{"field":"x","type":"quantitative"},"y":{"field":"y","type":"quantitative"},"text":{"field":"t"}}},
{"data":{"values":[{"i":0,"x":1086.5,"y":774.1},{"i":1,"x":1100.8,"y":764.2},{"i":2,"x":1105.8,"y":737.3},{"i":3,"x":1100.2,"y":700.4},{"i":4,"x":1085.3,"y":663.5},{"i":5,"x":1065.3,"y":636.6},{"i":6,"x":1045.5,"y":626.7},{"i":7,"x":1031.2,"y":636.6},{"i":8,"x":1026.2,"y":663.5},{"i":9,"x":1031.8,"y":700.4},{"i":10,"x":1046.7,"y":737.3},{"i":11,"x":1066.7,"y":764.2}]},"mark":{"type":"line","interpolate":"cardinal-closed","color":"#C0202A","strokeWidth":2.5},"encoding":{"x":{"field":"x","type":"quantitative"},"y":{"field":"y","type":"quantitative"},"order":{"field":"i"}}},
{"data":{"values":[{"x":1027.4,"y":743.6,"t":"(10,2)"},{"x":1149.4,"y":754.4,"t":"(9,4)"},{"x":1202.3,"y":753.5,"t":"(8,6)"},{"x":1058.5,"y":693.6,"t":"(7,5)"},{"x":1159.3,"y":682,"t":"(7,6)"}]},"mark":{"type":"text","align":"center","baseline":"middle","font":"Liberation Serif","fontWeight":"bold","fontSize":19,"color":"black"},"encoding":{"x":{"field":"x","type":"quantitative"},"y":{"field":"y","type":"quantitative"},"text":{"field":"t"}}},
{"data":{"values":[{"x":980.5,"y":792.8,"t":"(c) After injecting Papain (normalized)"}]},"mark":{"type":"text","align":"left","baseline":"middle","font":"Liberation Serif","fontSize":22,"color":"#222222"},"encoding":{"x":{"field":"x","type":"quantitative"},"y":{"field":"y","type":"quantitative"},"text":{"field":"t"}}},
{"data":{"values":[{"x":333.5,"x2":1283,"y":813.1,"y2":813.1},{"x":333.5,"x2":333.5,"y":813.1,"y2":399},{"x":974.2,"x2":974.2,"y":813.1,"y2":399}]},"mark":{"type":"rule","color":"#111111","strokeWidth":3},"encoding":{"x":{"field":"x","type":"quantitative"},"x2":{"field":"x2"},"y":{"field":"y","type":"quantitative"},"y2":{"field":"y2"}}}
]},
{"width":295,"height":177.5,"title":{"text":"(d) After injecting KMnO₄","dx":-18.5,"offset":1},"resolve":{"scale":{"color":"independent"}},"layer":[
{"data":{"name":"kmno4"},"mark":{"type":"rect"},"encoding":{"x":{"field":"x","type":"quantitative","scale":{"domain":[1000,1250],"nice":false,"zero":false},"axis":{"title":null,"format":"d","values":[1000,1050,1100,1150,1200,1250]}},"x2":{"field":"x2"},"y":{"field":"y","type":"quantitative","scale":{"domain":[625,775],"nice":false,"zero":false},"axis":{"title":null,"values":[625,675,725,775]}},"y2":{"field":"y2"},"color":{"field":"v","type":"quantitative","legend":null,"scale":{"type":"quantize","domain":[0,0.62],"range":["#0000C8","#0018F0","#0040F8","#0068F0","#0090F0","#00B0F0","#00D0F0","#00F0F0","#00E898","#00F000","#90E000","#C8F000","#FFF000","#FFD000","#FFAA00","#FF8800","#FF6600","#FF4400","#FF2000","#E80000"]}}}},
{"data":{"name":"bar"},"mark":{"type":"rect","stroke":"#666666","strokeWidth":0.3},"encoding":{"x":{"datum":1253.2,"type":"quantitative"},"x2":{"datum":1262},"y":{"field":"lo","type":"quantitative"},"y2":{"field":"hi"},"color":{"field":"level","type":"ordinal","legend":null,"scale":{"domain":[0,1,2,3,4,5,6,7,8,9,10,11,12,13,14,15,16,17,18,19],"range":["#0000C8","#0018F0","#0040F8","#0068F0","#0090F0","#00B0F0","#00D0F0","#00F0F0","#00E898","#00F000","#90E000","#C8F000","#FFF000","#FFD000","#FFAA00","#FF8800","#FF6600","#FF4400","#FF2000","#E80000"]}}}},
{"data":{"values":[{"x":1263,"y":771.5,"t":"0.62"},{"x":1263,"y":628.5,"t":"0.00"}]},"mark":{"type":"text","align":"left","baseline":"middle","font":"Liberation Serif","fontWeight":"bold","fontSize":16,"color":"#111111"},"encoding":{"x":{"field":"x","type":"quantitative"},"y":{"field":"y","type":"quantitative"},"text":{"field":"t"}}},
{"data":{"values":[{"x":1286,"y":696}]},"mark":{"type":"point","filled":true,"opacity":1,"color":"black","size":1681,"shape":"M-1,-0.2 L-0.03,-0.2 L-0.03,-0.52 L1,0 L-0.03,0.52 L-0.03,0.2 L-1,0.2 Z"},"encoding":{"x":{"field":"x","type":"quantitative"},"y":{"field":"y","type":"quantitative"}}}
]},
{"width":303.5,"height":177.5,"title":{"text":"(e) After injecting DTT","dx":-23.5,"offset":6},"resolve":{"scale":{"color":"independent"}},"layer":[
{"data":{"name":"dtt"},"mark":{"type":"circle","size":320,"opacity":1,"clip":true},"encoding":{"x":{"field":"x","type":"quantitative","scale":{"domain":[1000,1250],"nice":false,"zero":false,"range":[0,295]},"axis":{"title":"Emission wavelength [nm]","format":"d","values":[1000,1050,1100,1150,1200,1250],"titleFont":"Liberation Serif","titleFontSize":24,"titleFontWeight":"normal","titleColor":"#222222","titleX":78.5,"titleY":40,"titleAlign":"center","titleBaseline":"bottom"}},"y":{"field":"y","type":"quantitative","scale":{"domain":[625,775],"nice":false,"zero":false},"axis":{"title":null,"values":[625,675,725,775]}},"order":{"field":"v","type":"quantitative"},"color":{"field":"v","type":"quantitative","legend":null,"scale":{"type":"quantize","domain":[0,0.62],"range":["#0000C8","#0018F0","#0040F8","#0068F0","#0090F0","#00B0F0","#00D0F0","#00F0F0","#00E898","#00F000","#90E000","#C8F000","#FFF000","#FFD000","#FFAA00","#FF8800","#FF6600","#FF4400","#FF2000","#E80000"]}}}},
{"data":{"name":"dttRings"},"mark":{"type":"circle","opacity":1,"clip":true},"encoding":{"x":{"field":"x","type":"quantitative"},"y":{"field":"y","type":"quantitative"},"order":{"field":"v","type":"quantitative"},"size":{"field":"a","type":"quantitative","legend":null,"scale":{"domain":[0,1000],"range":[0,1392]}},"color":{"field":"v","type":"quantitative","legend":null,"scale":{"type":"quantize","domain":[0,0.62],"range":["#0000C8","#0018F0","#0040F8","#0068F0","#0090F0","#00B0F0","#00D0F0","#00F0F0","#00E898","#00F000","#90E000","#C8F000","#FFF000","#FFD000","#FFAA00","#FF8800","#FF6600","#FF4400","#FF2000","#E80000"]}}}},
{"data":{"values":[{"x":1254,"y":624,"y2":777}]},"mark":{"type":"rule","color":"white","strokeWidth":9.5},"encoding":{"x":{"field":"x","type":"quantitative"},"y":{"field":"y","type":"quantitative"},"y2":{"field":"y2"}}},
{"data":{"name":"bar"},"mark":{"type":"rect","stroke":"#666666","strokeWidth":0.3},"encoding":{"x":{"datum":1253.2,"type":"quantitative"},"x2":{"datum":1261},"y":{"field":"lo","type":"quantitative"},"y2":{"field":"hi"},"color":{"field":"level","type":"ordinal","legend":null,"scale":{"domain":[0,1,2,3,4,5,6,7,8,9,10,11,12,13,14,15,16,17,18,19],"range":["#0000C8","#0018F0","#0040F8","#0068F0","#0090F0","#00B0F0","#00D0F0","#00F0F0","#00E898","#00F000","#90E000","#C8F000","#FFF000","#FFD000","#FFAA00","#FF8800","#FF6600","#FF4400","#FF2000","#E80000"]}}}},
{"data":{"values":[{"x":1262,"y":772,"t":"0.62"},{"x":1262,"y":628.8,"t":"0.00"}]},"mark":{"type":"text","align":"left","baseline":"middle","font":"Liberation Serif","fontWeight":"bold","fontSize":16,"color":"#111111"},"encoding":{"x":{"field":"x","type":"quantitative"},"y":{"field":"y","type":"quantitative"},"text":{"field":"t"}}},
{"data":{"values":[{"x":1088,"y":764.4,"t":"(10,2)"},{"x":1127.5,"y":758.7,"t":"(9,4)"},{"x":1197.3,"y":754,"t":"(8,6)"},{"x":1052.1,"y":667,"t":"(7,5)"},{"x":1136.3,"y":677.4,"t":"(7,6)"}]},"mark":{"type":"text","align":"center","baseline":"middle","font":"Liberation Serif","fontWeight":"bold","fontSize":19,"color":"black"},"encoding":{"x":{"field":"x","type":"quantitative"},"y":{"field":"y","type":"quantitative"},"text":{"field":"t"}}}
]},
{"width":295,"height":177.5,"title":{"text":"(f) After injecting DTT (normalized)","dx":-22,"offset":2},"resolve":{"scale":{"color":"independent"}},"layer":[
{"data":{"name":"dtt"},"mark":{"type":"circle","size":320,"opacity":1,"clip":true},"encoding":{"x":{"field":"x","type":"quantitative","scale":{"domain":[1000,1250],"nice":false,"zero":false},"axis":{"title":null,"format":"d","values":[1000,1050,1100,1150,1200,1250]}},"y":{"field":"y","type":"quantitative","scale":{"domain":[625,775],"nice":false,"zero":false},"axis":{"title":null,"values":[625,675,725,775]}},"order":{"field":"v","type":"quantitative"},"color":{"field":"v","type":"quantitative","legend":null,"scale":{"type":"quantize","domain":[0,0.62],"range":["#0000C8","#0018F0","#0040F8","#0068F0","#0090F0","#00B0F0","#00D0F0","#00F0F0","#00E898","#00F000","#90E000","#C8F000","#FFF000","#FFD000","#FFAA00","#FF8800","#FF6600","#FF4400","#FF2000","#E80000"]}}}},
{"data":{"name":"dttRings"},"mark":{"type":"circle","opacity":1,"clip":true},"encoding":{"x":{"field":"x","type":"quantitative"},"y":{"field":"y","type":"quantitative"},"order":{"field":"v","type":"quantitative"},"size":{"field":"a","type":"quantitative","legend":null,"scale":{"domain":[0,1000],"range":[0,1392]}},"color":{"field":"v","type":"quantitative","legend":null,"scale":{"type":"quantize","domain":[0,0.62],"range":["#0000C8","#0018F0","#0040F8","#0068F0","#0090F0","#00B0F0","#00D0F0","#00F0F0","#00E898","#00F000","#90E000","#C8F000","#FFF000","#FFD000","#FFAA00","#FF8800","#FF6600","#FF4400","#FF2000","#E80000"]}}}},
{"data":{"name":"bar"},"mark":{"type":"rect","stroke":"#666666","strokeWidth":0.3},"encoding":{"x":{"datum":1253.4,"type":"quantitative"},"x2":{"datum":1261.3},"y":{"field":"lo","type":"quantitative"},"y2":{"field":"hi"},"color":{"field":"level","type":"ordinal","legend":null,"scale":{"domain":[0,1,2,3,4,5,6,7,8,9,10,11,12,13,14,15,16,17,18,19],"range":["#0000C8","#0018F0","#0040F8","#0068F0","#0090F0","#00B0F0","#00D0F0","#00F0F0","#00E898","#00F000","#90E000","#C8F000","#FFF000","#FFD000","#FFAA00","#FF8800","#FF6600","#FF4400","#FF2000","#E80000"]}}}},
{"data":{"values":[{"x":1261.5,"y":772,"t":"1.00"},{"x":1261.5,"y":628.8,"t":"0.00"}]},"mark":{"type":"text","align":"left","baseline":"middle","font":"Liberation Serif","fontWeight":"bold","fontSize":16,"color":"#111111"},"encoding":{"x":{"field":"x","type":"quantitative"},"y":{"field":"y","type":"quantitative"},"text":{"field":"t"}}},
{"data":{"values":[{"x":1089.3,"y":764.4,"t":"(10,2)"},{"x":1151.1,"y":764.4,"t":"(9,4)"},{"x":1198.3,"y":754,"t":"(8,6)"},{"x":1053.4,"y":667,"t":"(7,5)"},{"x":1137.5,"y":677.7,"t":"(7,6)"}]},"mark":{"type":"text","align":"center","baseline":"middle","font":"Liberation Serif","fontWeight":"bold","fontSize":19,"color":"black"},"encoding":{"x":{"field":"x","type":"quantitative"},"y":{"field":"y","type":"quantitative"},"text":{"field":"t"}}}
]}
]}
